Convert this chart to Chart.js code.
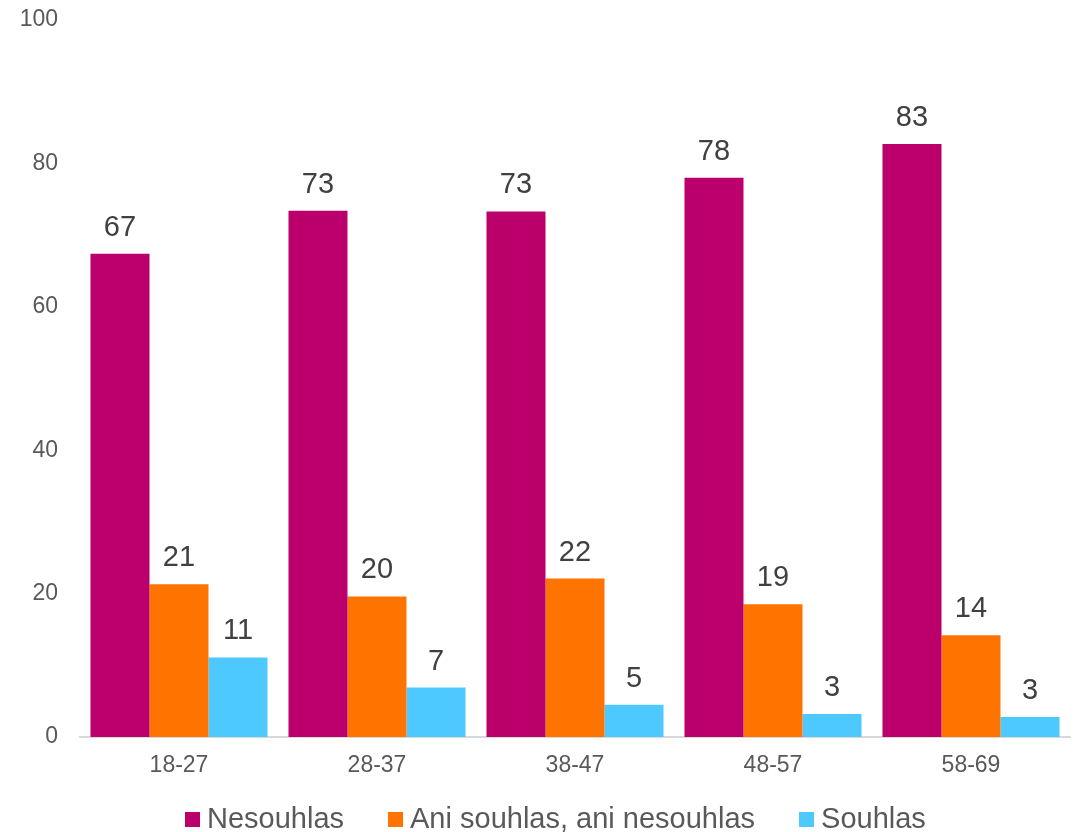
<!DOCTYPE html>
<html lang="cs">
<head>
<meta charset="UTF-8">
<title>Souhlas podle věku</title>
<script src="https://cdn.jsdelivr.net/npm/chart.js"></script>
<style>
    body {
        margin: 0;
        background-color: #fff;
        overflow: hidden;
    }
    .chart-container {
        position: relative;
        width: 1076px;
        height: 832px;
    }
</style>
</head>
<body>
<div class="chart-container">
    <canvas id="vekChart"></canvas>
</div>

<script>
    // data
    const kategorie = ['18-27', '28-37', '38-47', '48-57', '58-69'];
    const nesouhlas = [67.4, 73.4, 73.3, 78.0, 82.7];
    const aniAni = [21.3, 19.6, 22.1, 18.5, 14.2];
    const souhlas = [11.1, 6.9, 4.5, 3.2, 2.8];
    const osaY = [0, 20, 40, 60, 80, 100];

    const pismo = '"Liberation Sans", Arial, sans-serif';

    // popisky hodnot nad sloupci
    const popisky = {
        id: 'popisky',
        afterDatasetsDraw(chart) {
            const ctx = chart.ctx;
            ctx.save();
            ctx.font = '29px ' + pismo;
            ctx.fillStyle = '#404040';
            ctx.textAlign = 'center';
            ctx.textBaseline = 'alphabetic';
            chart.data.datasets.forEach((ds, i) => {
                chart.getDatasetMeta(i).data.forEach((bar, j) => {
                    ctx.fillText(Math.round(ds.data[j]), bar.x, bar.y - 18);
                });
            });
            ctx.restore();
        }
    };

    // legenda dole - čtvereček, mezera 7px, text, mezera 44px
    const legenda = {
        id: 'legenda',
        afterDraw(chart) {
            const ctx = chart.ctx;
            ctx.save();
            ctx.font = '29px ' + pismo;
            ctx.textBaseline = 'middle';
            ctx.textAlign = 'left';
            const y = 820;
            let x = 185;
            chart.data.datasets.forEach(ds => {
                ctx.fillStyle = ds.backgroundColor;
                ctx.fillRect(x, y - 8, 15, 15);
                x += 22;
                ctx.fillStyle = '#595959';
                ctx.fillText(ds.label, x, y);
                x += ctx.measureText(ds.label).width + 44;
            });
            ctx.restore();
        }
    };

    const ctx = document.getElementById('vekChart').getContext('2d');
    new Chart(ctx, {
        type: 'bar',
        data: {
            labels: kategorie,
            datasets: [
                { label: 'Nesouhlas', data: nesouhlas, backgroundColor: '#BB006B' },
                { label: 'Ani souhlas, ani nesouhlas', data: aniAni, backgroundColor: '#FF7300' },
                { label: 'Souhlas', data: souhlas, backgroundColor: '#4DC9FF' }
            ]
        },
        options: {
            responsive: true,
            maintainAspectRatio: false,
            animation: false,
            layout: {
                padding: { top: 20, right: 6, left: 0, bottom: 59 }
            },
            datasets: {
                bar: {
                    categoryPercentage: 0.894,
                    barPercentage: 1.0
                }
            },
            scales: {
                x: {
                    grid: { display: false, drawTicks: false },
                    border: { display: true, color: '#D9D9D9', width: 2 },
                    ticks: {
                        color: '#595959',
                        padding: 15,
                        font: { family: pismo, size: 23 }
                    },
                    afterFit: function(scale) { scale.height = 36; }
                },
                y: {
                    min: 0,
                    max: 100,
                    grid: { display: false, drawTicks: false },
                    border: { display: false },
                    ticks: {
                        color: '#595959',
                        padding: 22,
                        font: { family: pismo, size: 23 }
                    },
                    afterBuildTicks: function(scale) {
                        scale.ticks = osaY.map(v => ({ value: v }));
                    },
                    afterFit: function(scale) {
                        scale.width = 80;
                        scale.paddingTop = 0;
                        scale.paddingBottom = 0;
                    }
                }
            },
            plugins: {
                legend: { display: false },
                tooltip: { enabled: false }
            }
        },
        plugins: [popisky, legenda]
    });
</script>
</body>
</html>
